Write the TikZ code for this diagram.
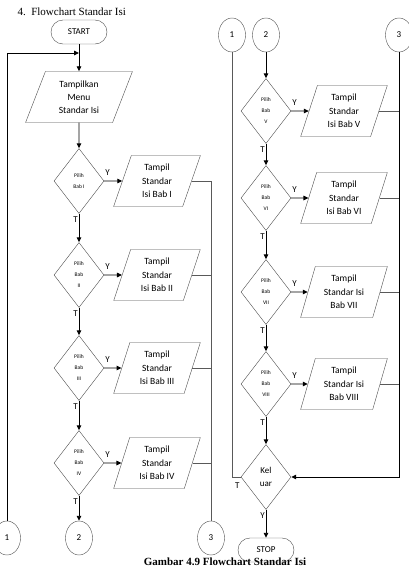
\documentclass[tikz,border=0pt]{standalone}
\usepackage{fontspec}
\setmainfont{Liberation Serif}
\newfontfamily\calfont{Carlito}
\usetikzlibrary{shapes.geometric,positioning,arrows.meta}

\tikzset{
    terminal/.style={draw=black!70, rounded corners=12pt, minimum width=56pt, minimum height=24pt,
        inner sep=0pt, font=\calfont\fontsize{9}{10}\selectfont},
    io/.style={draw=black!70, trapezium, trapezium left angle=73, trapezium right angle=107,
        trapezium stretches=true, minimum width=87pt, minimum height=51pt, inner sep=0pt,
        align=center, font=\calfont\fontsize{9.5}{13.5}\selectfont},
    choice/.style={draw=black!70, diamond, minimum width=50pt, minimum height=65pt, inner sep=0pt,
        align=center, font=\calfont\fontsize{5.5}{11}\selectfont},
    conn/.style={draw=black!70, ellipse, minimum width=27pt, minimum height=34pt, inner sep=0pt,
        font=\calfont\fontsize{9}{10}\selectfont},
    flow/.style={-{Triangle[length=5pt,width=4.5pt]}, line width=0.9pt},
    link/.style={draw=black!65, line width=0.7pt},
    yt/.style={font=\calfont\fontsize{9}{10}\selectfont, inner sep=0pt}
}

\begin{document}
\begin{tikzpicture}[x=1pt,y=-1pt]
    \useasboundingbox (0,0) rectangle (409,568);

    \node[anchor=west, font=\fontsize{11}{12}\selectfont] (title) at (14,12) {4.\ \ Flowchart Standar Isi};
    \node[font=\bfseries\fontsize{11}{12}\selectfont] (caption) at (225,562) {Gambar 4.9 Flowchart Standar Isi};

    \node[terminal] (start) at (79,32) {START};
    \coordinate (lp) at (79,53);
    \node[io, trapezium left angle=70, trapezium right angle=110, minimum width=107pt,
        font=\calfont\fontsize{9.5}{13}\selectfont] (menu) at (79,97) {Tampilkan\\Menu\\Standar Isi};

    \node[choice] (d1) at (79,181) {Pilih\\Bab I};
    \node[io] (p1) at (157,181) {Tampil\\Standar\\Isi Bab I};
    \node[choice] (d2) at (79,275) {Pilih\\Bab\\II};
    \node[io] (p2) at (157,275) {Tampil\\Standar\\Isi Bab II};
    \node[choice] (d3) at (79,368) {Pilih\\Bab\\III};
    \node[io] (p3) at (157,368) {Tampil\\Standar\\Isi Bab III};
    \node[choice] (d4) at (79,463) {Pilih\\Bab\\IV};
    \node[io] (p4) at (157,463) {Tampil\\Standar\\Isi Bab IV};

    \node[conn] (c1) at (7,538) {1};
    \node[conn] (c2) at (79,538) {2};
    \node[conn] (c3) at (211,538) {3};

    \node[conn] (c1r) at (232,35) {1};
    \node[conn] (c2r) at (266,35) {2};
    \node[conn] (c3r) at (399,35) {3};

    \node[choice] (d5) at (266,111) {Pilih\\Bab\\V};
    \node[io] (p5) at (344,111) {Tampil\\Standar\\Isi Bab V};
    \node[choice] (d6) at (266,198) {Pilih\\Bab\\VI};
    \node[io] (p6) at (344,198) {Tampil\\Standar\\Isi Bab VI};
    \node[choice] (d7) at (266,292) {Pilih\\Bab\\VII};
    \node[io] (p7) at (344,292) {Tampil\\Standar Isi\\Bab VII};
    \node[choice] (d8) at (266,384) {Pilih\\Bab\\VIII};
    \node[io] (p8) at (344,384) {Tampil\\Standar Isi\\Bab VIII};
    \node[choice, font=\calfont\fontsize{9}{13}\selectfont] (kel) at (266,477) {Kel\\uar};
    \node[terminal] (stop) at (266,550) {STOP};

    \draw[flow] (start) -- (menu);
    \draw[flow] (c1) |- (lp);
    \draw[flow] (menu) -- (d1);
    \draw[flow] (d1) -- (d2);
    \draw[flow] (d2) -- (d3);
    \draw[flow] (d3) -- (d4);
    \draw[flow] (d4) -- (c2);
    \draw[flow] (d1.east) -- (p1);
    \draw[flow] (d2.east) -- (p2);
    \draw[flow] (d3.east) -- (p3);
    \draw[flow] (d4.east) -- (p4);
    \draw[link] (p1.east) -| (c3);
    \draw[link] (p2.east) -- (p2.east -| c3);
    \draw[link] (p3.east) -- (p3.east -| c3);
    \draw[link] (p4.east) -- (p4.east -| c3);

    \draw[flow] (c2r) -- (d5);
    \draw[flow] (d5) -- (d6);
    \draw[flow] (d6) -- (d7);
    \draw[flow] (d7) -- (d8);
    \draw[flow] (d8) -- (kel);
    \draw[flow] (d5.east) -- (p5);
    \draw[flow] (d6.east) -- (p6);
    \draw[flow] (d7.east) -- (p7);
    \draw[flow] (d8.east) -- (p8);
    \draw[link] (p5.east) -- (p5.east -| c3r);
    \draw[link] (p6.east) -- (p6.east -| c3r);
    \draw[link] (p7.east) -- (p7.east -| c3r);
    \draw[link] (p8.east) -- (p8.east -| c3r);
    \draw[link] (c1r) |- (kel.west);
    \draw[flow] (c3r) |- (kel.east);
    \draw[flow] (kel) -- (stop);

    \node[yt, above right=5pt and 1pt of d1.east] (y1) {Y};
    \node[yt, above right=5pt and 1pt of d2.east] (y2) {Y};
    \node[yt, above right=5pt and 1pt of d3.east] (y3) {Y};
    \node[yt, above right=5pt and 1pt of d4.east] (y4) {Y};
    \node[yt, above right=5pt and 1pt of d5.east] (y5) {Y};
    \node[yt, above right=5pt and 1pt of d6.east] (y6) {Y};
    \node[yt, above right=5pt and 1pt of d7.east] (y7) {Y};
    \node[yt, above right=5pt and 1pt of d8.east] (y8) {Y};
    \node[yt, below left=3pt and 1pt of d1.south] (t1) {T};
    \node[yt, below left=3pt and 1pt of d2.south] (t2) {T};
    \node[yt, below left=3pt and 1pt of d3.south] (t3) {T};
    \node[yt, below left=3pt and 1pt of d4.south] (t4) {T};
    \node[yt, below left=3pt and 1pt of d5.south] (t5) {T};
    \node[yt, below left=3pt and 1pt of d6.south] (t6) {T};
    \node[yt, below left=3pt and 1pt of d7.south] (t7) {T};
    \node[yt, below left=3pt and 1pt of d8.south] (t8) {T};
    \node[yt, below left=6pt and 1pt of kel.west] (tk) {T};
    \node[yt, below left=3pt and 1pt of kel.south] (yk) {Y};
\end{tikzpicture}
\end{document}
